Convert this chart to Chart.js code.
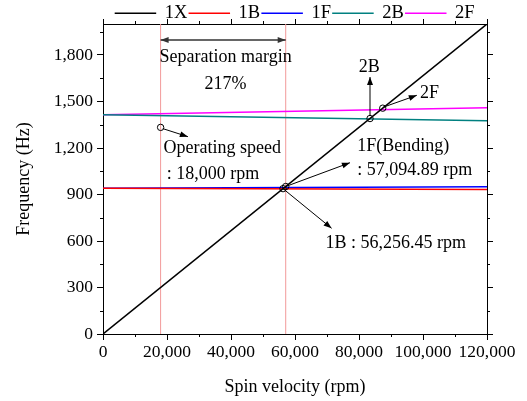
<!DOCTYPE html>
<html>
<head>
<meta charset="utf-8">
<script src="https://cdn.jsdelivr.net/npm/chart.js@4.4.1/dist/chart.umd.min.js"></script>
<style>
  html, body { margin: 0; padding: 0; background: #fff; }
  canvas { display: block; }
</style>
</head>
<body>
<canvas id="chart" width="527" height="401"></canvas>
<script>
// spin velocity range (rpm) and the Campbell lines at both ends
const rpmEnds = [0, 120000];
const line1X = [0, 2000];
const line1B = [940, 932];
const line1F = [940, 950];
const line2B = [1415, 1376];
const line2F = [1415, 1460];
const seriesNames = ['1X', '1B', '1F', '2B', '2F'];

// open circle markers
const markerRpm = [18000, 56256.45, 57094.89, 83440, 87414];
const markerHz = [1333, 937.6, 951.6, 1390, 1457];

// vertical guide lines (operating speed, 1F critical speed)
const guideRpm = [18000, 57094.89];

const xTicks = [0, 20000, 40000, 60000, 80000, 100000, 120000];
const yTicks = [0, 300, 600, 900, 1200, 1500, 1800];

// annotation texts, in data units
const noteText = ['Separation margin', '217%', 'Operating speed', ': 18,000 rpm',
  '1F(Bending)', ': 57,094.89 rpm', '1B : 56,256.45 rpm', '2B', '2F'];
const noteRpm = [38300, 38300, 18900, 19950, 79480, 79480, 69550, 83200, 99100];
const noteHz = [1787, 1613, 1200, 1032, 1213, 1058, 587, 1722, 1555];
const noteAlign = ['center', 'center', 'left', 'left', 'left', 'left', 'left', 'center', 'left'];

// arrows: from -> to, in data units
const arrowFromRpm = [18700, 57094.89, 56256.45, 83440, 87414];
const arrowFromHz = [1325, 951.6, 937.6, 1408, 1462];
const arrowToRpm = [26540, 77170, 71430, 83440, 98070];
const arrowToHz = [1273, 1105, 682, 1658, 1540];

const colors = ['#000000', '#ff0000', '#0000ff', '#008080', '#ff00ff'];
const FONT = "'Liberation Serif', 'Times New Roman', serif";

function fmt(n) {
  return Number(n).toLocaleString('en-US');
}

function endsToPoints(vals) {
  return rpmEnds.map((x, i) => ({ x, y: vals[i] }));
}

const lines = [line1X, line1B, line1F, line2B, line2F];
const datasets = lines.map((vals, i) => ({
  label: seriesNames[i],
  data: endsToPoints(vals),
  borderColor: colors[i],
  backgroundColor: colors[i],
  borderWidth: 1.5,
  pointRadius: 0,
  order: 1
}));

guideRpm.forEach((r) => {
  datasets.push({
    label: 'guide',
    data: [{ x: r, y: 0 }, { x: r, y: 2000 }],
    borderColor: '#f29a9a',
    borderWidth: 1,
    pointRadius: 0,
    order: 5
  });
});

datasets.push({
  label: 'markers',
  data: markerRpm.map((x, i) => ({ x, y: markerHz[i] })),
  showLine: false,
  pointRadius: 3.2,
  pointStyle: 'circle',
  pointBorderColor: '#000',
  pointBackgroundColor: 'rgba(255,255,255,0)',
  pointBorderWidth: 1,
  order: -1
});

function drawHead(ctx, x1, y1, x2, y2) {
  const a = Math.atan2(y2 - y1, x2 - x1);
  const len = 8, w = 3;
  ctx.beginPath();
  ctx.moveTo(x2, y2);
  ctx.lineTo(x2 - len * Math.cos(a) + w * Math.sin(a), y2 - len * Math.sin(a) - w * Math.cos(a));
  ctx.lineTo(x2 - len * Math.cos(a) - w * Math.sin(a), y2 - len * Math.sin(a) + w * Math.cos(a));
  ctx.closePath();
  ctx.fill();
}

const annotate = {
  id: 'annotate',
  afterDatasetsDraw(chart) {
    const { ctx, scales } = chart;
    const xs = scales.x, ys = scales.y;
    ctx.save();

    // minor ticks on all four sides, major ticks on top
    ctx.strokeStyle = '#000';
    ctx.lineWidth = 1;
    const area = chart.chartArea;
    ctx.beginPath();
    for (let v = 10000; v < 120000; v += 20000) {
      const px = Math.round(xs.getPixelForValue(v)) + 0.5;
      ctx.moveTo(px, area.bottom); ctx.lineTo(px, area.bottom + 3);
      ctx.moveTo(px, area.top); ctx.lineTo(px, area.top - 3);
    }
    xTicks.forEach((v) => {
      const px = Math.round(xs.getPixelForValue(v)) + 0.5;
      ctx.moveTo(px, area.top); ctx.lineTo(px, area.top - 5);
    });
    for (let v = 150; v < 2000; v += 300) {
      const py = Math.round(ys.getPixelForValue(v)) + 0.5;
      ctx.moveTo(area.left, py); ctx.lineTo(area.left - 3, py);
      ctx.moveTo(area.right, py); ctx.lineTo(area.right + 3, py);
    }
    ctx.stroke();

    // arrows
    ctx.fillStyle = '#000';
    ctx.strokeStyle = '#000';
    ctx.lineWidth = 1;
    for (let i = 0; i < arrowFromRpm.length; i++) {
      const x1 = xs.getPixelForValue(arrowFromRpm[i]);
      const y1 = ys.getPixelForValue(arrowFromHz[i]);
      const x2 = xs.getPixelForValue(arrowToRpm[i]);
      const y2 = ys.getPixelForValue(arrowToHz[i]);
      ctx.beginPath();
      ctx.moveTo(x1, y1);
      ctx.lineTo(x2, y2);
      ctx.stroke();
      drawHead(ctx, x1, y1, x2, y2);
    }

    // separation margin double arrow
    const sy = ys.getPixelForValue(1897);
    const sx1 = xs.getPixelForValue(guideRpm[0]);
    const sx2 = xs.getPixelForValue(guideRpm[1]);
    ctx.strokeStyle = '#333';
    ctx.fillStyle = '#333';
    ctx.lineWidth = 1.5;
    ctx.beginPath();
    ctx.moveTo(sx1, sy);
    ctx.lineTo(sx2, sy);
    ctx.stroke();
    drawHead(ctx, sx2, sy, sx1, sy);
    drawHead(ctx, sx1, sy, sx2, sy);

    // texts
    ctx.fillStyle = '#000';
    ctx.font = '18px ' + FONT;
    ctx.textBaseline = 'middle';
    noteText.forEach((t, i) => {
      ctx.textAlign = noteAlign[i];
      ctx.fillText(t, xs.getPixelForValue(noteRpm[i]), ys.getPixelForValue(noteHz[i]));
    });
    ctx.restore();
  }
};

Chart.defaults.font.family = FONT;
Chart.defaults.color = '#000';

new Chart(document.getElementById('chart'), {
  type: 'line',
  data: { datasets },
  options: {
    responsive: false,
    animation: false,
    layout: { padding: { top: 2, right: 34, bottom: 0, left: 0 } },
    plugins: {
      tooltip: { enabled: false },
      legend: {
        position: 'top',
        fullSize: false,
        maxHeight: 22,
        labels: {
          filter: (item) => seriesNames.includes(item.text),
          boxWidth: 40,
          boxHeight: 0.01,
          padding: 2,
          color: '#000',
          font: { size: 18.5, lineHeight: 1.2 }
        }
      }
    },
    scales: {
      x: {
        type: 'linear',
        min: 0,
        max: 120000,
        afterBuildTicks: (s) => { s.ticks = xTicks.map(v => ({ value: v })); },
        afterFit: (s) => { s.height = 67; },
        grid: { drawOnChartArea: false, tickLength: 6, color: '#000' },
        border: { color: '#000', width: 1 },
        ticks: { callback: (v) => fmt(v), font: { size: 17.5 }, padding: 2, maxRotation: 0, autoSkip: false },
        title: { display: true, text: 'Spin velocity (rpm)', font: { size: 18 }, padding: { top: 0, bottom: 3 } }
      },
      y: {
        type: 'linear',
        min: 0,
        max: 2000,
        afterBuildTicks: (s) => { s.ticks = yTicks.map(v => ({ value: v })); },
        afterFit: (s) => { s.width = 103; },
        grid: { drawOnChartArea: false, tickLength: 6, color: '#000' },
        border: { color: '#000', width: 1 },
        ticks: { callback: (v) => fmt(v), font: { size: 17.5 }, padding: 4 },
        title: { display: true, text: 'Frequency (Hz)', font: { size: 18 }, padding: { top: 13, bottom: 0 } }
      },
      x2: {
        type: 'linear',
        position: 'top',
        min: 0,
        max: 120000,
        afterBuildTicks: (s) => { s.ticks = xTicks.map(v => ({ value: v })); },
        afterFit: (s) => { s.height = 0; },
        grid: { drawOnChartArea: false, drawTicks: false },
        border: { color: '#000', width: 1 },
        ticks: { display: false }
      },
      y2: {
        type: 'linear',
        position: 'right',
        min: 0,
        max: 2000,
        afterBuildTicks: (s) => { s.ticks = yTicks.map(v => ({ value: v })); },
        grid: { drawOnChartArea: false, tickLength: 6, color: '#000' },
        border: { color: '#000', width: 1 },
        ticks: { display: false }
      }
    }
  },
  plugins: [annotate]
});
</script>
</body>
</html>
